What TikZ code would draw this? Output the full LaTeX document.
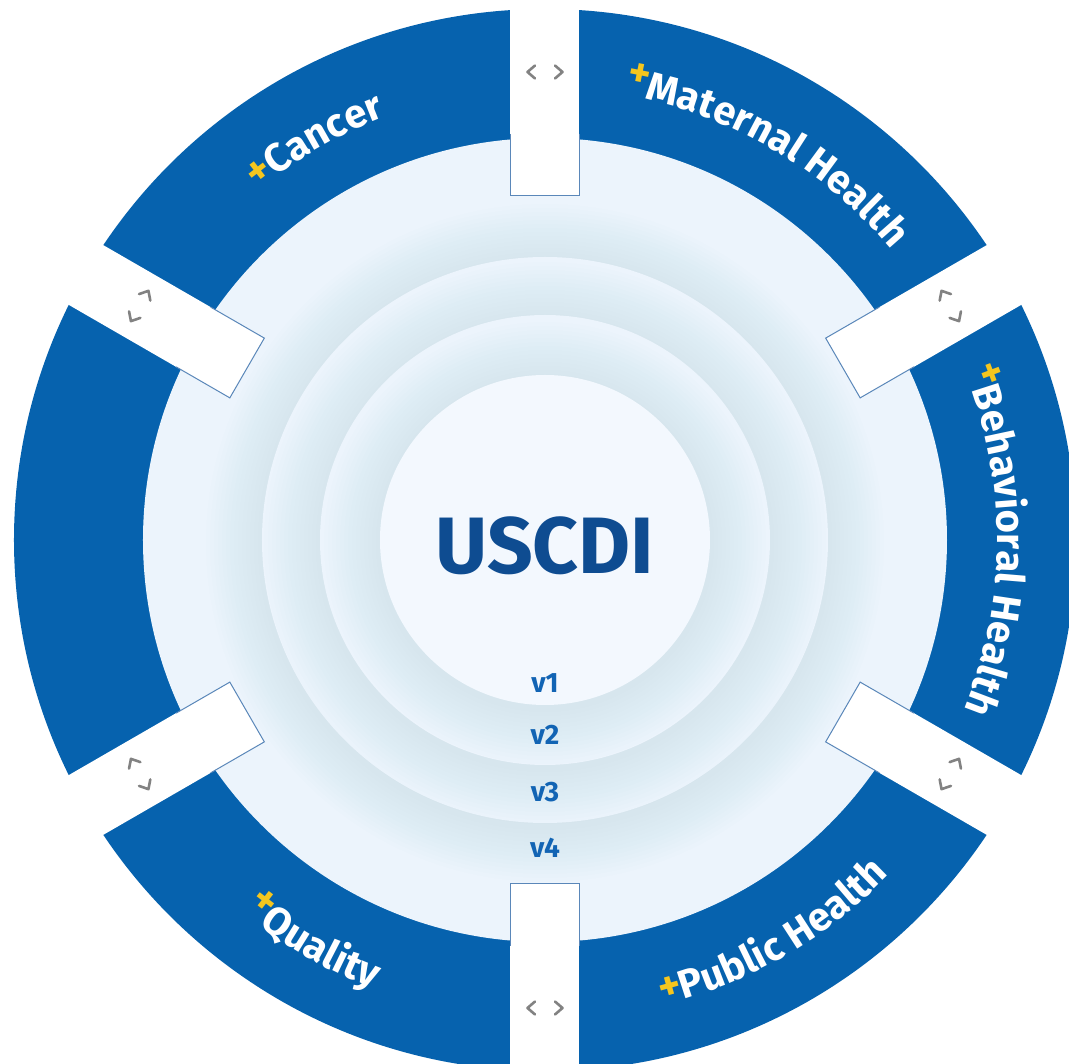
\documentclass[tikz,border=0pt]{standalone}
\usepackage{fontspec}
\setmainfont{Fira Sans}
\usetikzlibrary{decorations.text}
\definecolor{ringblue}{RGB}{6,98,174}
\definecolor{discbase}{RGB}{236,244,252}
\definecolor{discin}{RGB}{243,248,254}
\definecolor{shadowc}{RGB}{95,145,232}
\definecolor{titleblue}{RGB}{14,76,145}
\definecolor{vblue}{RGB}{18,100,180}
\definecolor{plusy}{RGB}{245,198,30}
\definecolor{chev}{RGB}{130,130,130}
\definecolor{gapedge}{RGB}{90,135,185}
\newcommand\ringfmt{\fontsize{40}{48}\selectfont\bfseries\color{white}}
\newlength\rlWlen
\newlength\rlPlen
\makeatletter
\newcommand\measureword[2]{\settowidth{\rlWlen}{\ringfmt +#2}\settowidth{\rlPlen}{\ringfmt +}%
  \expandafter\edef\csname rlw#1\endcsname{\strip@pt\dimexpr(\rlWlen-\rlPlen)/2\relax}}
\makeatother
\tikzset{
  ringtext/.style={decorate, decoration={text along path, text align=center, text={#1}}},
  plusmark/.style={font=\fontsize{42}{48}\selectfont\bfseries, text=plusy, inner sep=0pt},
  gapedgeline/.style={gapedge, line width=1pt},
  chevline/.style={chev, line width=2.6pt, line cap=round, line join=round},
  vlabel/.style={font=\fontsize{28}{30}\selectfont\bfseries, text=vblue, inner sep=0pt},
}
% #1 name of the plus node, #2 centre angle, #3 baseline radius,
% #4 direction (1 = clockwise, tops outward; -1 = counter-clockwise, tops inward),
% #5 word, #6 how far the plus sits above the baseline
\newcommand\ringlabel[6]{%
  \pgfmathsetmacro\rlA{#2 + (#4)*(\csname rlw#1\endcsname)/#3*180/pi}%
  \pgfmathsetmacro\rlS{#2 + (#4)*60}%
  \pgfmathsetmacro\rlE{#2 - (#4)*60}%
  \path[ringtext={|\ringfmt\color{ringblue}|+|\ringfmt|#5}] (\rlS:#3) arc[start angle=\rlS, end angle=\rlE, radius=#3];
  \pgfmathsetmacro\rlR{#3 + (#4)*(#6)}%
  \pgfmathsetmacro\rlRot{\rlA - (#4)*90}%
  \node[plusmark, rotate=\rlRot] (#1) at (\rlA:\rlR) {+};
}
\begin{document}
\measureword{pcancer}{Cancer}%
\measureword{pmaternal}{Maternal Health}%
\measureword{pbehav}{Behavioral Health}%
\measureword{ppublic}{Public Health}%
\measureword{pquality}{Quality}%
\begin{tikzpicture}[x=1pt,y=1pt]
\useasboundingbox (-545,-524) rectangle (524,540);
\clip (-545,-524) rectangle (524,540);
\fill[white] (-545,-524) rectangle (524,540);
% blue ring
\fill[ringblue] (0,0) circle[radius=531];
\fill[discbase] (0,0) circle[radius=402];
% raised circles with soft shadows
\foreach \r/\c in {283/discbase,225/discbase,165/discin}{
  \foreach \k in {1,...,14}
    \fill[shadowc, opacity=0.0075] (0,-3) circle[radius=\r+4*\k];
  \fill[\c] (0,0) circle[radius=\r];
}
% gaps with chevrons
\foreach \a in {90,30,-30,-90,210,150}{
  \begin{scope}[rotate=\a]
    \fill[white] (344,-34.5) rectangle (620,34.5);
    \draw[gapedgeline] (406,34.5) -- (344,34.5) -- (344,-34.5) -- (406,-34.5);
  \end{scope}
  \begin{scope}[shift={(\a:468)}, rotate=\a-90]
    \draw[chevline] (-10,6.5) -- (-17.5,0) -- (-10,-6.5);
    \draw[chevline] (10,6.5) -- (17.5,0) -- (10,-6.5);
  \end{scope}
}
% ring labels
\ringlabel{pcancer}{120}{452}{1}{Cancer}{14}
\ringlabel{pmaternal}{60}{452}{1}{Maternal Health}{22}
\ringlabel{pbehav}{0}{452}{1}{Behavioral Health}{22}
\ringlabel{ppublic}{-60}{480}{-1}{Public Health}{14}
\ringlabel{pquality}{240}{480}{-1}{Quality}{22}
% centre
\node[font=\fontsize{80}{90}\selectfont\bfseries, text=titleblue, inner sep=0pt] (title) at (0,-5.5) {USCDI};
\node[vlabel] (v1) at (0,-143) {v1};
\node[vlabel] (v2) at (0,-195) {v2};
\node[vlabel] (v3) at (0,-252) {v3};
\node[vlabel] (v4) at (0,-308) {v4};
\end{tikzpicture}
\end{document}
